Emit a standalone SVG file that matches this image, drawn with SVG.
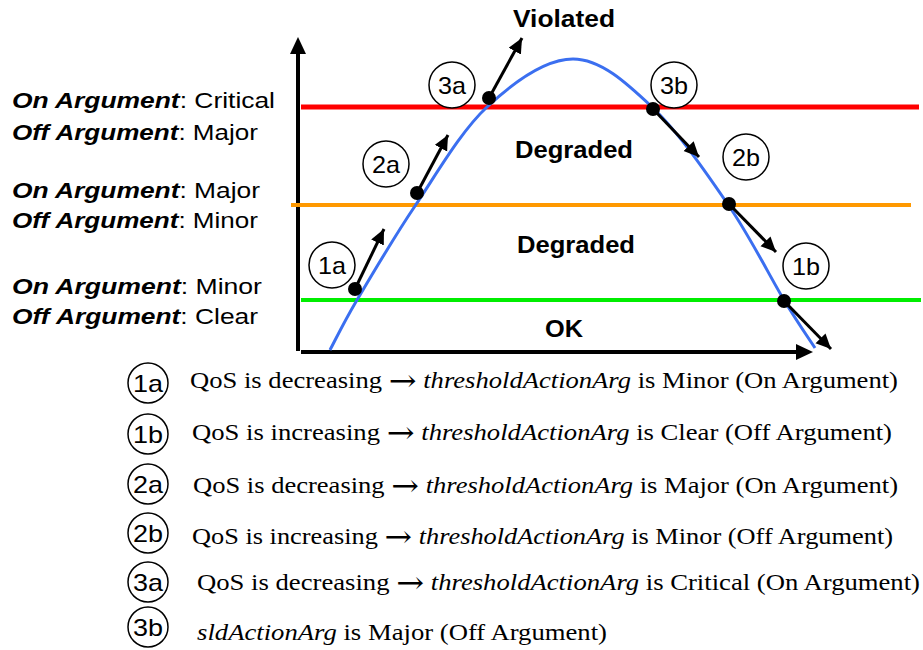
<svg xmlns="http://www.w3.org/2000/svg" width="923" height="650" viewBox="0 0 923 650">
<style>
.lab{font-family:"Liberation Sans",Arial,sans-serif;font-size:22px;fill:#000}
.bi{font-weight:bold;font-style:italic}
.reg{font-family:"Liberation Sans",Arial,sans-serif;font-size:23px;font-weight:bold;fill:#000}
.cl{font-family:"Liberation Sans",Arial,sans-serif;font-size:24px;fill:#000}
.lg{font-family:"Liberation Serif","Times New Roman",serif;font-size:24px;fill:#000}
.ar{font-family:"DejaVu Serif",serif;font-size:30px}
.circ{fill:#fff;stroke:#000;stroke-width:1.5}
.arr{stroke:#000;stroke-width:3;fill:none;marker-end:url(#ah)}
.dot{fill:#000}
</style>
<defs>
<marker id="ah" markerUnits="userSpaceOnUse" markerWidth="18" markerHeight="16" refX="15" refY="7" orient="auto">
<path d="M0,0 L15,7 L0,14 Z" fill="#000"/>
</marker>
</defs>

<g id="axes">
<line x1="298" y1="351" x2="298" y2="52" stroke="#000" stroke-width="4"/>
<polygon points="298,37 290,54 306,54" fill="#000"/>
<line x1="301" y1="352" x2="798" y2="352" stroke="#000" stroke-width="4"/>
<polygon points="813,352 796,344 796,360" fill="#000"/>
</g>

<g id="thresholds">
<line x1="301" y1="107" x2="919" y2="107" stroke="#ff0000" stroke-width="5"/>
<line x1="291" y1="205" x2="911" y2="205" stroke="#ff9900" stroke-width="4"/>
<line x1="301" y1="300" x2="921" y2="300" stroke="#00ee00" stroke-width="4"/>
</g>

<g id="qos-curve">
<path d="M330,350 C334.5,341.7 342.8,324 357,300 C371.2,276 393.3,238.2 415,206 C436.7,173.8 460.7,131.5 487,107 C513.3,82.5 545.5,59 573,59 C600.5,59 626,82.5 652,107 C678,131.5 707,173.8 729,206 C751,238.2 769.7,276.3 784,300 C798.3,323.7 809.8,340 815,348" fill="none" stroke="#3b6ff0" stroke-width="3"/>
</g>

<g id="region-labels">
<text class="reg" x="513" y="27" textLength="102" lengthAdjust="spacingAndGlyphs">Violated</text>
<text class="reg" x="515" y="158" textLength="118" lengthAdjust="spacingAndGlyphs">Degraded</text>
<text class="reg" x="517" y="253" textLength="118" lengthAdjust="spacingAndGlyphs">Degraded</text>
<text class="reg" x="545" y="337" textLength="38" lengthAdjust="spacingAndGlyphs">OK</text>
</g>

<g id="left-labels">
<text class="lab" x="12" y="108" textLength="263" lengthAdjust="spacingAndGlyphs"><tspan class="bi">On Argument</tspan>: Critical</text>
<text class="lab" x="12" y="140" textLength="246" lengthAdjust="spacingAndGlyphs"><tspan class="bi">Off Argument</tspan>: Major</text>
<text class="lab" x="12" y="198" textLength="248" lengthAdjust="spacingAndGlyphs"><tspan class="bi">On Argument</tspan>: Major</text>
<text class="lab" x="12" y="228" textLength="246" lengthAdjust="spacingAndGlyphs"><tspan class="bi">Off Argument</tspan>: Minor</text>
<text class="lab" x="12" y="294" textLength="250" lengthAdjust="spacingAndGlyphs"><tspan class="bi">On Argument</tspan>: Minor</text>
<text class="lab" x="12" y="324" textLength="246" lengthAdjust="spacingAndGlyphs"><tspan class="bi">Off Argument</tspan>: Clear</text>
</g>

<g id="connectors">
<line class="arr" x1="355" y1="289" x2="384" y2="229"/>
<line class="arr" x1="417" y1="193" x2="448" y2="135"/>
<line class="arr" x1="489" y1="98" x2="522" y2="38"/>
<line class="arr" x1="653" y1="109" x2="699" y2="157"/>
<line class="arr" x1="729" y1="204" x2="776" y2="252"/>
<line class="arr" x1="784" y1="301" x2="831" y2="349"/>
</g>

<g id="points">
<circle class="dot" cx="355" cy="289" r="7"/>
<circle class="dot" cx="417" cy="193" r="7"/>
<circle class="dot" cx="489" cy="98" r="7"/>
<circle class="dot" cx="653" cy="109" r="7"/>
<circle class="dot" cx="729" cy="204" r="7"/>
<circle class="dot" cx="784" cy="301" r="7"/>
</g>

<g id="node-1a"><circle class="circ" cx="332" cy="265" r="23"/><text class="cl" x="318" y="274" textLength="28" lengthAdjust="spacingAndGlyphs">1a</text></g>
<g id="node-2a"><circle class="circ" cx="386" cy="164" r="23"/><text class="cl" x="372" y="173" textLength="28" lengthAdjust="spacingAndGlyphs">2a</text></g>
<g id="node-3a"><circle class="circ" cx="452" cy="85" r="23"/><text class="cl" x="438" y="94" textLength="28" lengthAdjust="spacingAndGlyphs">3a</text></g>
<g id="node-3b"><circle class="circ" cx="674" cy="85" r="23"/><text class="cl" x="660" y="94" textLength="28" lengthAdjust="spacingAndGlyphs">3b</text></g>
<g id="node-2b"><circle class="circ" cx="746" cy="157" r="23"/><text class="cl" x="732" y="166" textLength="28" lengthAdjust="spacingAndGlyphs">2b</text></g>
<g id="node-1b"><circle class="circ" cx="806" cy="266" r="23"/><text class="cl" x="792" y="275" textLength="28" lengthAdjust="spacingAndGlyphs">1b</text></g>

<g id="legend-1a"><circle class="circ" cx="148" cy="383" r="20"/><text class="cl" x="133" y="392" textLength="30" lengthAdjust="spacingAndGlyphs">1a</text>
<text class="lg" x="190" y="388" textLength="708" lengthAdjust="spacingAndGlyphs">QoS is decreasing <tspan class="ar" dy="3">→</tspan><tspan dy="-3"> </tspan><tspan font-style="italic">thresholdActionArg</tspan> is Minor (On Argument)</text></g>
<g id="legend-1b"><circle class="circ" cx="148" cy="434" r="20"/><text class="cl" x="133" y="443" textLength="30" lengthAdjust="spacingAndGlyphs">1b</text>
<text class="lg" x="192" y="440" textLength="700" lengthAdjust="spacingAndGlyphs">QoS is increasing <tspan class="ar" dy="3">→</tspan><tspan dy="-3"> </tspan><tspan font-style="italic">thresholdActionArg</tspan> is Clear (Off Argument)</text></g>
<g id="legend-2a"><circle class="circ" cx="148" cy="484" r="20"/><text class="cl" x="133" y="493" textLength="30" lengthAdjust="spacingAndGlyphs">2a</text>
<text class="lg" x="193" y="493" textLength="705" lengthAdjust="spacingAndGlyphs">QoS is decreasing <tspan class="ar" dy="3">→</tspan><tspan dy="-3"> </tspan><tspan font-style="italic">thresholdActionArg</tspan> is Major (On Argument)</text></g>
<g id="legend-2b"><circle class="circ" cx="148" cy="533" r="20"/><text class="cl" x="133" y="542" textLength="30" lengthAdjust="spacingAndGlyphs">2b</text>
<text class="lg" x="192" y="544" textLength="701" lengthAdjust="spacingAndGlyphs">QoS is increasing <tspan class="ar" dy="3">→</tspan><tspan dy="-3"> </tspan><tspan font-style="italic">thresholdActionArg</tspan> is Minor (Off Argument)</text></g>
<g id="legend-3a"><circle class="circ" cx="148" cy="582" r="20"/><text class="cl" x="133" y="591" textLength="30" lengthAdjust="spacingAndGlyphs">3a</text>
<text class="lg" x="197" y="590" textLength="723" lengthAdjust="spacingAndGlyphs">QoS is decreasing <tspan class="ar" dy="3">→</tspan><tspan dy="-3"> </tspan><tspan font-style="italic">thresholdActionArg</tspan> is Critical (On Argument)</text></g>
<g id="legend-3b"><circle class="circ" cx="148" cy="627" r="20"/><text class="cl" x="133" y="636" textLength="30" lengthAdjust="spacingAndGlyphs">3b</text>
<text class="lg" x="197" y="640" textLength="410" lengthAdjust="spacingAndGlyphs"><tspan font-style="italic">sldActionArg</tspan> is Major (Off Argument)</text></g>
</svg>
